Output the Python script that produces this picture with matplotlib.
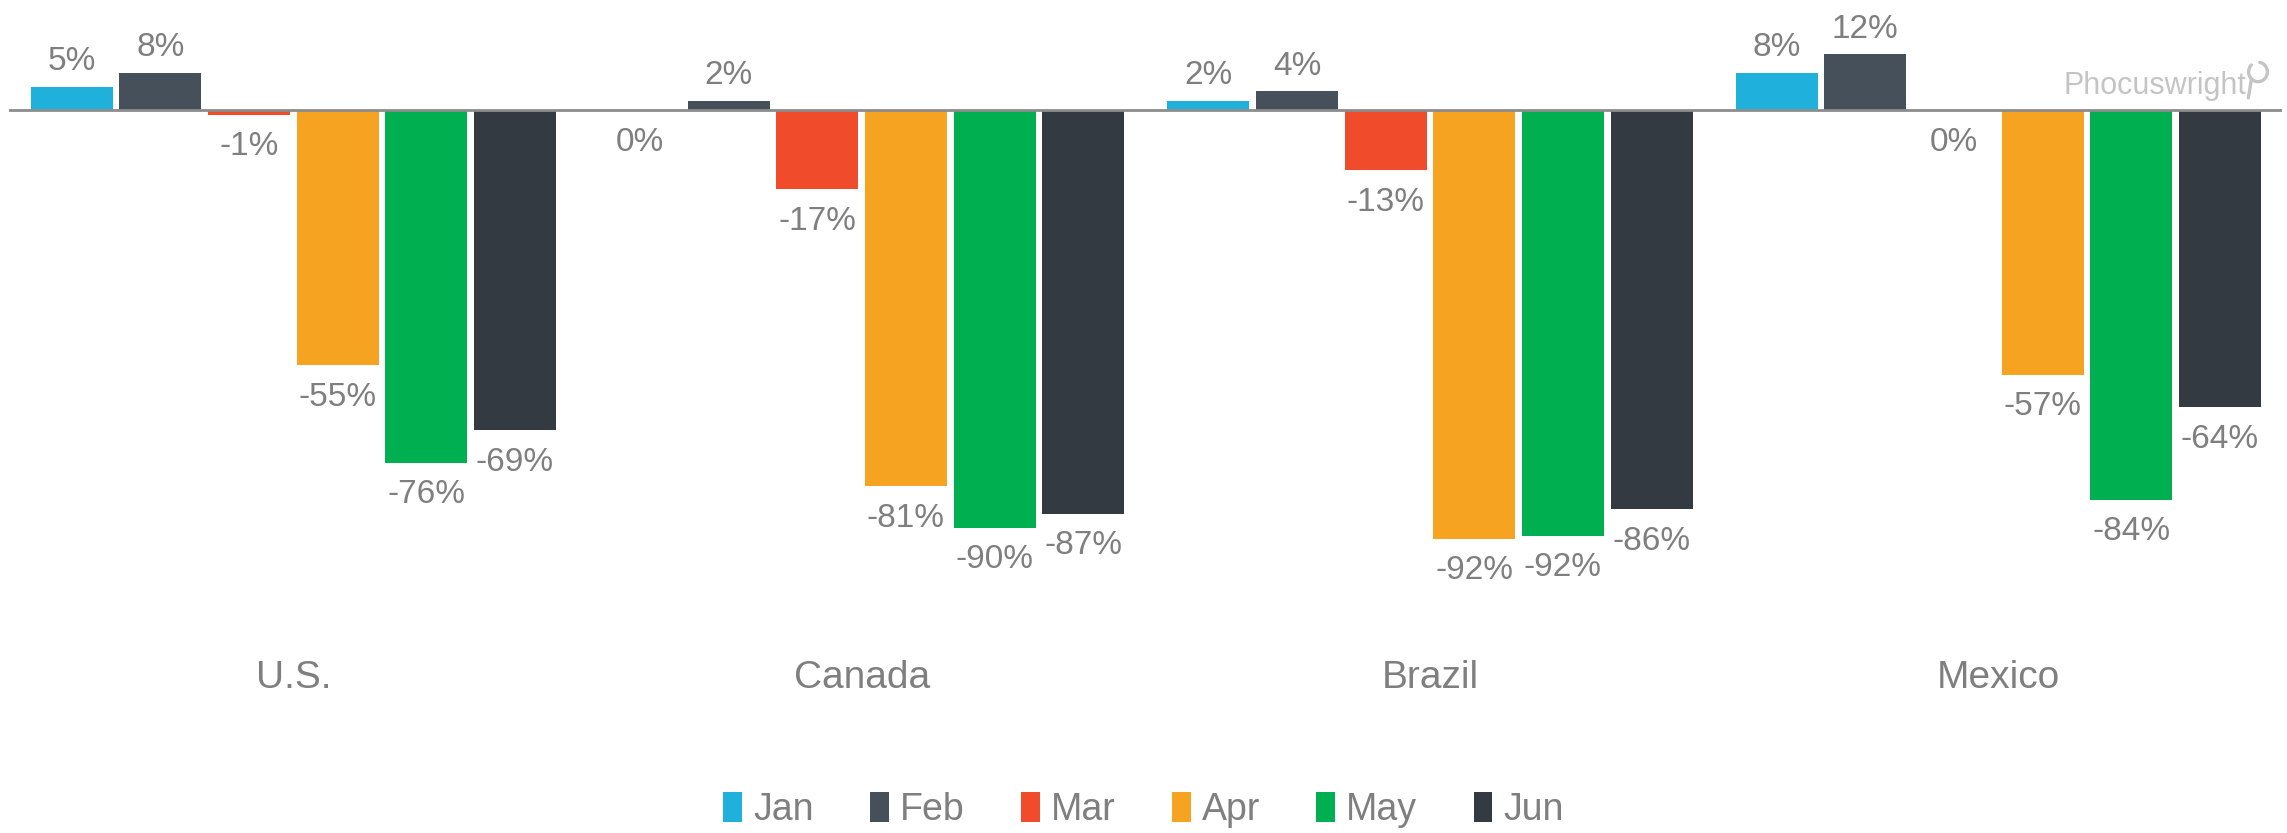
import numpy as np
import matplotlib.pyplot as plt
from matplotlib.patches import Patch

countries = ["U.S.", "Canada", "Brazil", "Mexico"]
months = ["Jan", "Feb", "Mar", "Apr", "May", "Jun"]
colors = ["#1fb1db", "#45505a", "#f04c2c", "#f5a320", "#00af50", "#343a42"]

# % change per month, one list per month (values in country order)
jan = [5, 0, 2, 8]
feb = [8, 2, 4, 12]
mar = [-1, -17, -13, 0]
apr = [-55, -81, -92.4, -57]
may = [-76, -90, -91.7, -84]
jun = [-69, -87, -86, -64]
series = [jan, feb, mar, apr, may, jun]

text_gray = "#7f7f7f"
fam = ["Liberation Sans", "DejaVu Sans"]

fig = plt.figure(figsize=(22.87, 8.33), dpi=100)
ax = fig.add_axes([0.004, 0, 0.994, 1])

x = np.arange(len(countries))
pitch = 0.156
width = 0.144
for i, (vals, col) in enumerate(zip(series, colors)):
    xs = x + (i - 2.5) * pitch
    ax.bar(xs, vals, width=width, color=col, zorder=2)
    for xx, v in zip(xs, vals):
        lab = f"{round(v):d}%"
        if v > 0:
            ax.annotate(lab, (xx, v), xytext=(0, 7), textcoords="offset points",
                        ha="center", va="bottom", fontsize=24, color=text_gray, family=fam)
        else:
            ax.annotate(lab, (xx, v), xytext=(0, -12), textcoords="offset points",
                        ha="center", va="top", fontsize=24, color=text_gray, family=fam)

ax.axhline(0, color="#8c8c8c", lw=2, zorder=3)

for xx, c in zip(x, countries):
    ax.text(xx, -122.5, c, ha="center", va="center", fontsize=28, color=text_gray, family=fam)

# watermark logo
ax.text(3.437, 2.0, "Phocuswright", ha="right", va="bottom", fontsize=22,
        color="#c4c4c4", family=fam)
t = np.linspace(0.75 * np.pi, 2.25 * np.pi + 0.6, 60)
ax.plot(3.457 + 0.0165 * np.cos(t), 8.2 + 2.1 * np.sin(t), color="#c4c4c4", lw=2.4,
        solid_capstyle="round")
ax.plot([3.4455, 3.440], [6.7, 2.6], color="#c4c4c4", lw=2.4, solid_capstyle="round")

ax.set_xlim(-0.5, 3.5)
ax.set_ylim(-155.8, 23.7)
ax.axis("off")

handles = [Patch(facecolor=c, label=m) for m, c in zip(months, colors)]
leg = fig.legend(handles=handles, loc="center", bbox_to_anchor=(0.5, 0.028), ncol=6,
                 frameon=False, handlelength=0.5, handleheight=0.85,
                 handletextpad=0.3, columnspacing=1.5,
                 prop={"family": fam, "size": 27})
for tx in leg.get_texts():
    tx.set_color(text_gray)

fig.savefig("out.png", dpi=100)
